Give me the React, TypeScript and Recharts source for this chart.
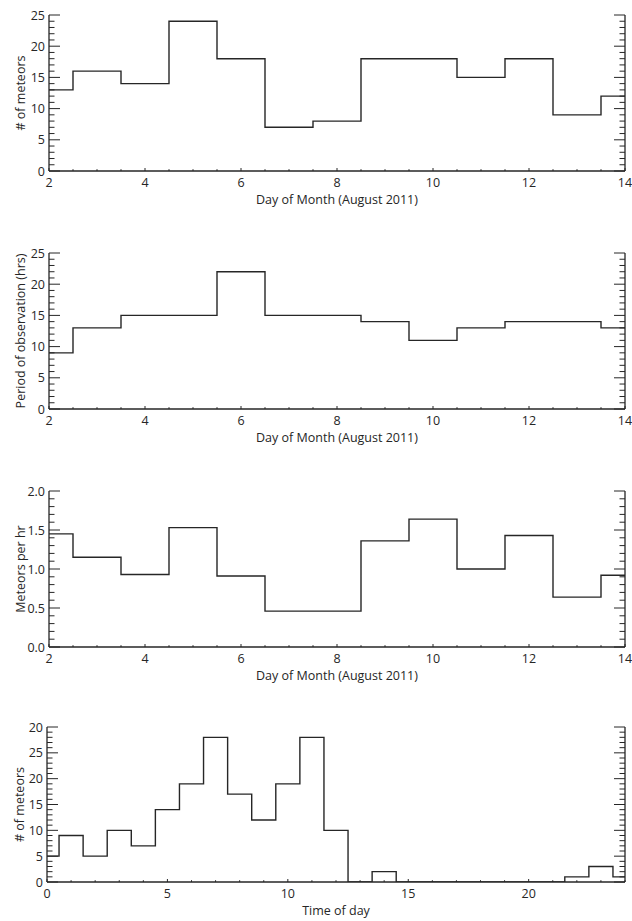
import React from "react";
import { LineChart, Line, XAxis, YAxis } from "recharts";

// day of month, August 2011
const DAYS = [2, 3, 4, 5, 6, 7, 8, 9, 10, 11, 12, 13, 14];
const METEOR_COUNTS = [13, 16, 14, 24, 18, 7, 8, 18, 18, 15, 18, 9, 12];
const OBSERVATION_HOURS = [9, 13, 15, 15, 22, 15, 15, 14, 11, 13, 14, 14, 13];
const METEORS_PER_HOUR = [1.45, 1.15, 0.93, 1.53, 0.91, 0.46, 0.46, 1.36, 1.64, 1.0, 1.43, 0.64, 0.92];

// time of day
const HOURS = [0, 1, 2, 3, 4, 5, 6, 7, 8, 9, 10, 11, 12, 13, 14, 15, 16, 17, 18, 19, 20, 21, 22, 23, 24];
const HOURLY_COUNTS = [5, 9, 5, 10, 7, 14, 19, 28, 17, 12, 19, 28, 10, 0, 2, 0, 0, 0, 0, 0, 0, 0, 1, 3, 1];

// major ticks + labels
const DAY_TICKS = [2, 4, 6, 8, 10, 12, 14];
const COUNT_TICKS = [0, 5, 10, 15, 20, 25];
const OBS_TICKS = [0, 5, 10, 15, 20, 25];
const RATE_TICKS = [0, 0.5, 1, 1.5, 2];
const RATE_TICK_LABELS = ["0.0", "0.5", "1.0", "1.5", "2.0"];
const HOUR_TICKS = [0, 5, 10, 15, 20];
const HOURLY_TICKS = [0, 5, 10, 15, 20, 25, 30];
const HOURLY_TICK_LABELS = ["0", "5", "10", "15", "20", "25", "20"];

const INK = "#262626";
const FONT = "'Open Sans', 'Noto Sans', sans-serif";
const X_AXIS_H = 34;

function range(min: number, max: number, step: number) {
  const out: number[] = [];
  const n = Math.round((max - min) / step);
  for (let i = 0; i <= n; i++) out.push(Math.round((min + i * step) * 1000) / 1000);
  return out;
}

type Side = "bottom" | "top" | "left" | "right";

function makeTick(side: Side, majors: number[], labels: string[] | null, majorLen: number, minorLen: number) {
  return function Tick(props: any) {
    const { x, y, payload } = props;
    const v = payload.value;
    const idx = majors.findIndex((m) => Math.abs(m - v) < 1e-6);
    const len = idx >= 0 ? majorLen : minorLen;
    let line;
    if (side === "bottom") line = <line x1={x} x2={x} y1={y} y2={y - len} stroke={INK} strokeWidth={1} />;
    else if (side === "top") line = <line x1={x} x2={x} y1={y} y2={y + len} stroke={INK} strokeWidth={1} />;
    else if (side === "left") line = <line x1={x} x2={x + len} y1={y} y2={y} stroke={INK} strokeWidth={1} />;
    else line = <line x1={x} x2={x - len} y1={y} y2={y} stroke={INK} strokeWidth={1} />;
    let label = null;
    if (labels && idx >= 0) {
      if (side === "bottom")
        label = (
          <text x={x} y={y + 15.5} textAnchor="middle" fontSize={12.5} fontFamily={FONT} fill={INK}>
            {labels[idx]}
          </text>
        );
      else if (side === "left")
        label = (
          <text x={x - 4} y={y + 4.5} textAnchor="end" fontSize={12.5} fontFamily={FONT} fill={INK}>
            {labels[idx]}
          </text>
        );
    }
    return (
      <g>
        {line}
        {label}
      </g>
    );
  };
}

interface PanelProps {
  xs: number[];
  ys: number[];
  xDomain: [number, number];
  yDomain: [number, number];
  xMajors: number[];
  xLabels: string[];
  xMinorStep: number;
  yMajors: number[];
  yLabels: string[];
  yMinorStep: number;
  xTitle: string;
  yTitle: string;
  height: number;
  top: number;
  plotHeight: number;
  left: number;
}

function Panel(p: PanelProps) {
  const data = p.xs.map((x, i) => ({ x, y: p.ys[i] }));
  const xTicks = range(p.xDomain[0], p.xDomain[1], p.xMinorStep);
  const yTicks = range(p.yDomain[0], p.yDomain[1], p.yMinorStep);
  const bottom = p.height - p.top - X_AXIS_H - p.plotHeight;
  const axisLine = { stroke: INK, strokeWidth: 1.3 };
  return (
    <LineChart width={632} height={p.height} data={data} margin={{ top: p.top, right: 0, bottom, left: 0 }}>
      <XAxis
        dataKey="x"
        type="number"
        domain={p.xDomain}
        ticks={xTicks}
        interval={0}
        allowDataOverflow
        height={X_AXIS_H}
        tickSize={0}
        tickMargin={0}
        axisLine={axisLine}
        tick={makeTick("bottom", p.xMajors, p.xLabels, 3, 1.8)}
        label={{ value: p.xTitle, position: "insideBottom", offset: 1, style: { fontSize: 12.5, fontFamily: FONT, fill: INK } }}
      />
      <XAxis
        xAxisId="top"
        orientation="top"
        dataKey="x"
        type="number"
        domain={p.xDomain}
        ticks={xTicks}
        interval={0}
        allowDataOverflow
        height={0}
        tickSize={0}
        tickMargin={0}
        axisLine={axisLine}
        tick={makeTick("top", p.xMajors, null, 3, 1.8)}
      />
      <YAxis
        type="number"
        domain={p.yDomain}
        ticks={yTicks}
        interval={0}
        allowDataOverflow
        width={p.left}
        tickSize={0}
        tickMargin={0}
        axisLine={axisLine}
        tick={makeTick("left", p.yMajors, p.yLabels, 11, 5.5)}
        label={{ value: p.yTitle, angle: -90, position: "center", dx: -4, style: { fontSize: 12.5, fontFamily: FONT, fill: INK } }}
      />
      <YAxis
        yAxisId="right"
        orientation="right"
        type="number"
        domain={p.yDomain}
        ticks={yTicks}
        interval={0}
        allowDataOverflow
        width={7}
        tickSize={0}
        tickMargin={0}
        axisLine={axisLine}
        tick={makeTick("right", p.yMajors, null, 11, 5.5)}
      />
      <Line type="step" dataKey="y" stroke={INK} strokeWidth={1.4} dot={false} isAnimationActive={false} />
    </LineChart>
  );
}

const dayLabels = DAY_TICKS.map(String);

export default function App() {
  return (
    <div style={{ width: 632, background: "#fff" }}>
      <style>{"body{margin:0;background:#fff}"}</style>
      <Panel
        xs={DAYS}
        ys={METEOR_COUNTS}
        xDomain={[2, 14]}
        yDomain={[0, 25]}
        xMajors={DAY_TICKS}
        xLabels={dayLabels}
        xMinorStep={0.5}
        yMajors={COUNT_TICKS}
        yLabels={COUNT_TICKS.map(String)}
        yMinorStep={1}
        xTitle="Day of Month (August 2011)"
        yTitle="# of meteors"
        height={238}
        top={15}
        plotHeight={156}
        left={49}
      />
      <Panel
        xs={DAYS}
        ys={OBSERVATION_HOURS}
        xDomain={[2, 14]}
        yDomain={[0, 25]}
        xMajors={DAY_TICKS}
        xLabels={dayLabels}
        xMinorStep={0.5}
        yMajors={OBS_TICKS}
        yLabels={OBS_TICKS.map(String)}
        yMinorStep={1}
        xTitle="Day of Month (August 2011)"
        yTitle="Period of observation (hrs)"
        height={238}
        top={15}
        plotHeight={156}
        left={49}
      />
      <Panel
        xs={DAYS}
        ys={METEORS_PER_HOUR}
        xDomain={[2, 14]}
        yDomain={[0, 2]}
        xMajors={DAY_TICKS}
        xLabels={dayLabels}
        xMinorStep={0.5}
        yMajors={RATE_TICKS}
        yLabels={RATE_TICK_LABELS}
        yMinorStep={0.1}
        xTitle="Day of Month (August 2011)"
        yTitle="Meteors per hr"
        height={238}
        top={15}
        plotHeight={156}
        left={49}
      />
      <Panel
        xs={HOURS}
        ys={HOURLY_COUNTS}
        xDomain={[0, 24]}
        yDomain={[0, 30]}
        xMajors={HOUR_TICKS}
        xLabels={HOUR_TICKS.map(String)}
        xMinorStep={1}
        yMajors={HOURLY_TICKS}
        yLabels={HOURLY_TICK_LABELS}
        yMinorStep={1}
        xTitle="Time of day"
        yTitle="# of meteors"
        height={207}
        top={13}
        plotHeight={155}
        left={47}
      />
    </div>
  );
}
